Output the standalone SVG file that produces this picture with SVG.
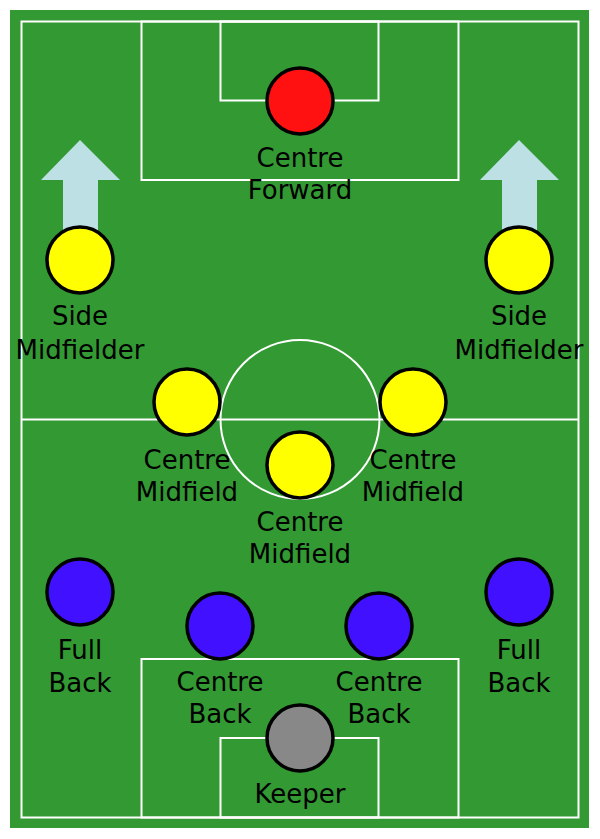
<svg xmlns="http://www.w3.org/2000/svg" width="600" height="839" viewBox="0 0 600 839">
<style>
.line{fill:none;stroke:#fff;stroke-width:2}
.p{stroke:#000;stroke-width:3.5}
.y{fill:#ffff00}
.b{fill:#4010ff}
text{font-family:"DejaVu Sans",sans-serif;font-size:26px;fill:#000;text-anchor:middle}
.arrow{fill:#bde0e5}
</style>
<rect width="600" height="839" fill="#fff"/>
<g id="pitch">
<rect x="10" y="10" width="579" height="818" fill="#339933"/>
<rect class="line" x="21.5" y="21.5" width="557" height="796"/>
<line class="line" x1="21.5" y1="419.5" x2="578.5" y2="419.5"/>
<circle class="line" cx="300" cy="419.5" r="79.5"/>
<rect class="line" x="141.5" y="21.5" width="317" height="158.5"/>
<rect class="line" x="220.5" y="21.5" width="158" height="79"/>
<rect class="line" x="141.5" y="659" width="317" height="158.5"/>
<rect class="line" x="220.5" y="738" width="158" height="79.5"/>
</g>
<g id="connectors">
<polygon class="arrow" points="80,140 120,180 98,180 98,240 63,240 63,180 41,180"/>
<polygon class="arrow" points="519,140 559,180 537,180 537,240 502,240 502,180 480,180"/>
</g>
<g id="centre-forward"><circle class="p" cx="300" cy="101" r="33" fill="#ff1111"/><text x="300" y="167">Centre</text><text x="300" y="199">Forward</text></g>
<g id="side-mid-left"><circle class="p y" cx="80" cy="260" r="33"/><text x="80" y="325">Side</text><text x="80" y="359">Midfielder</text></g>
<g id="side-mid-right"><circle class="p y" cx="519" cy="260" r="33"/><text x="519" y="325">Side</text><text x="519" y="359">Midfielder</text></g>
<g id="centre-mid-left"><circle class="p y" cx="187" cy="402" r="33"/><text x="187" y="469">Centre</text><text x="187" y="501">Midfield</text></g>
<g id="centre-mid-right"><circle class="p y" cx="413" cy="402" r="33"/><text x="413" y="469">Centre</text><text x="413" y="501">Midfield</text></g>
<g id="centre-mid-centre"><circle class="p y" cx="300" cy="465" r="33"/><text x="300" y="531">Centre</text><text x="300" y="563">Midfield</text></g>
<g id="full-back-left"><circle class="p b" cx="80" cy="592" r="33"/><text x="80" y="659">Full</text><text x="80" y="692">Back</text></g>
<g id="full-back-right"><circle class="p b" cx="519" cy="592" r="33"/><text x="519" y="659">Full</text><text x="519" y="692">Back</text></g>
<g id="centre-back-left"><circle class="p b" cx="220" cy="626" r="33"/><text x="220" y="691">Centre</text><text x="220" y="723">Back</text></g>
<g id="centre-back-right"><circle class="p b" cx="379" cy="626" r="33"/><text x="379" y="691">Centre</text><text x="379" y="723">Back</text></g>
<g id="keeper"><circle class="p" cx="300" cy="738" r="33" fill="#888"/><text x="300" y="803">Keeper</text></g>
</svg>
